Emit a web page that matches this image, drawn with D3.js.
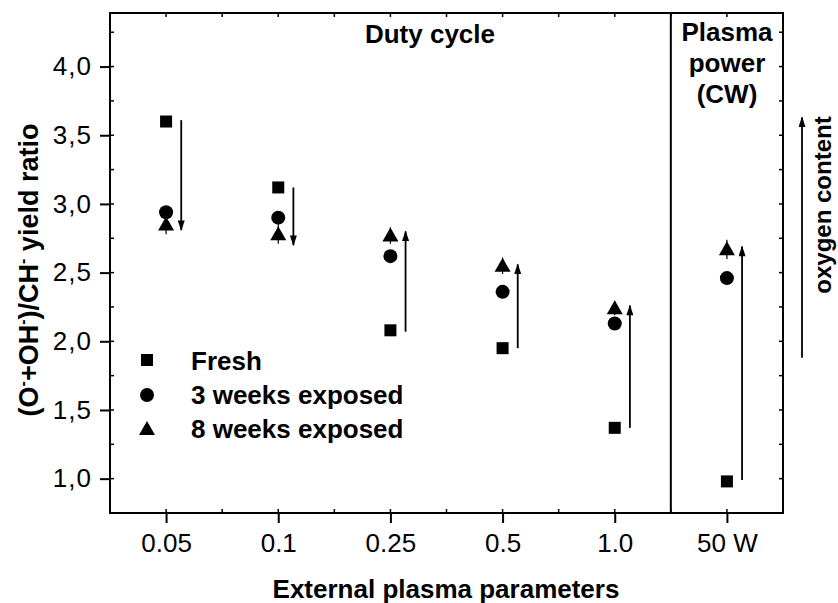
<!DOCTYPE html>
<html>
<head>
<meta charset="utf-8">
<script src="https://cdn.jsdelivr.net/npm/d3@7"></script>
<style>
  html, body { margin: 0; padding: 0; background: #fff; }
  svg { display: block; font-family: "Liberation Sans", Arial, sans-serif; }
</style>
</head>
<body>
<svg id="chart" width="838" height="603"></svg>
<script>
// Categories along the x axis (duty cycles, then CW plasma power)
const categories = ["0.05", "0.1", "0.25", "0.5", "1.0", "50 W"];

// (O- + OH-)/CH- yield ratio per sample age
const fresh  = [3.60, 3.12, 2.08, 1.95, 1.37, 0.98];
const weeks3 = [2.94, 2.90, 2.62, 2.36, 2.13, 2.46];
const weeks8 = [2.85, 2.78, 2.77, 2.55, 2.24, 2.67];
const err8   = [0.07, 0.07, 0.06, 0.06, 0.05, 0.07];

// Ageing arrows: start and end value for each category
const arrowFrom = [3.61, 3.12, 2.07, 1.95, 1.37, 0.99];
const arrowTo   = [2.81, 2.70, 2.80, 2.56, 2.26, 2.69];

// Y tick labels
const yTickValues = [1.0, 1.5, 2.0, 2.5, 3.0, 3.5, 4.0];
const yTickLabels = ["1,0", "1,5", "2,0", "2,5", "3,0", "3,5", "4,0"];

// "oxygen content" arrow span, in ratio units
const oxygenArrow = [1.88, 3.63];

const svg = d3.select("#chart");
const pLeft = 110, pRight = 783, pTop = 13, pBottom = 513;

const x = d3.scaleLinear().domain([-0.5, categories.length - 0.5]).range([pLeft, pRight]);
const y = d3.scaleLinear().domain([0.75, 4.39]).range([pBottom, pTop]);

const ink = "#000";
const font = "Liberation Sans, Arial, sans-serif";

// Arrowhead marker
svg.append("defs").append("marker")
  .attr("id", "head")
  .attr("markerUnits", "userSpaceOnUse")
  .attr("viewBox", "0 0 12 8")
  .attr("refX", 11).attr("refY", 4)
  .attr("markerWidth", 12).attr("markerHeight", 7)
  .attr("orient", "auto")
  .append("path").attr("d", "M0,0 L12,4 L0,8 Z").attr("fill", ink);

// Axes
const idx = d3.range(categories.length);
const xAxis = d3.axisBottom(x).tickValues(idx).tickFormat(i => categories[i])
  .tickSizeInner(10).tickSizeOuter(0).tickPadding(11);
const gx = svg.append("g").attr("transform", `translate(0,${pBottom})`).call(xAxis);
gx.selectAll("text").attr("font-size", 26).attr("font-family", font).attr("fill", ink);

const yAxis = d3.axisLeft(y).tickValues(yTickValues)
  .tickFormat((d, i) => yTickLabels[i]).tickSizeInner(10).tickSizeOuter(0).tickPadding(8);
const gy = svg.append("g").attr("transform", `translate(${pLeft},0)`).call(yAxis);
gy.selectAll("text").attr("font-size", 26).attr("font-family", font).attr("fill", ink)
  .attr("letter-spacing", 1);

[gx, gy].forEach(g => {
  g.select(".domain").remove();
  g.selectAll(".tick line").attr("stroke", ink).attr("stroke-width", 2);
});

// Minor ticks (inward)
const minorY = d3.range(1.0, 4.26, 0.25);
svg.append("g").selectAll("line").data(minorY).join("line")
  .attr("x1", pLeft).attr("x2", pLeft + 4)
  .attr("y1", d => y(d)).attr("y2", d => y(d))
  .attr("stroke", ink).attr("stroke-width", 1.5);
svg.append("g").selectAll("line").data(minorY).join("line")
  .attr("x1", pRight).attr("x2", pRight - 4)
  .attr("y1", d => y(d)).attr("y2", d => y(d))
  .attr("stroke", ink).attr("stroke-width", 1.5);
const minorX = d3.range(0, categories.length - 0.5, 0.5);
svg.append("g").selectAll("line").data(minorX).join("line")
  .attr("x1", d => x(d)).attr("x2", d => x(d))
  .attr("y1", pBottom).attr("y2", pBottom - 4)
  .attr("stroke", ink).attr("stroke-width", 1.5);
svg.append("g").selectAll("line").data(minorX).join("line")
  .attr("x1", d => x(d)).attr("x2", d => x(d))
  .attr("y1", pTop).attr("y2", pTop + 4)
  .attr("stroke", ink).attr("stroke-width", 1.5);

// Frame and divider between duty cycle and CW power
svg.append("rect").attr("x", pLeft).attr("y", pTop)
  .attr("width", pRight - pLeft).attr("height", pBottom - pTop)
  .attr("fill", "none").attr("stroke", ink).attr("stroke-width", 2);
svg.append("line")
  .attr("x1", x(categories.length - 1.5)).attr("x2", x(categories.length - 1.5))
  .attr("y1", pTop).attr("y2", pBottom)
  .attr("stroke", ink).attr("stroke-width", 2);

// Ageing arrows
svg.append("g").selectAll("line").data(idx).join("line")
  .attr("x1", i => x(i + 0.135)).attr("x2", i => x(i + 0.135))
  .attr("y1", i => y(arrowFrom[i])).attr("y2", i => y(arrowTo[i]))
  .attr("stroke", ink).attr("stroke-width", 1.8)
  .attr("marker-end", "url(#head)");

// Marker shapes
const tri = (cx, cy) => `M${cx},${cy - 8} L${cx + 8},${cy + 6} L${cx - 8},${cy + 6} Z`;

// 8 weeks error bars
svg.append("g").selectAll("line").data(idx).join("line")
  .attr("x1", i => x(i)).attr("x2", i => x(i))
  .attr("y1", i => y(weeks8[i] + err8[i])).attr("y2", i => y(weeks8[i] - err8[i]))
  .attr("stroke", ink).attr("stroke-width", 1.2);

svg.append("g").selectAll("rect").data(idx).join("rect")
  .attr("x", i => x(i) - 6).attr("y", i => y(fresh[i]) - 6)
  .attr("width", 12).attr("height", 12).attr("fill", ink);
svg.append("g").selectAll("circle").data(idx).join("circle")
  .attr("cx", i => x(i)).attr("cy", i => y(weeks3[i])).attr("r", 7).attr("fill", ink);
svg.append("g").selectAll("path").data(idx).join("path")
  .attr("d", i => tri(x(i), y(weeks8[i]))).attr("fill", ink);

// Legend
const legend = svg.append("g").attr("font-family", font).attr("font-weight", "bold")
  .attr("font-size", 26);
const lx = 147, ltx = 191;
legend.append("rect").attr("x", lx - 6).attr("y", 360 - 6).attr("width", 12).attr("height", 12).attr("fill", ink);
legend.append("circle").attr("cx", lx).attr("cy", 395).attr("r", 7).attr("fill", ink);
legend.append("path").attr("d", tri(lx, 429)).attr("fill", ink);
legend.append("text").attr("x", ltx).attr("y", 370).text("Fresh");
legend.append("text").attr("x", ltx).attr("y", 404).text("3 weeks exposed");
legend.append("text").attr("x", ltx).attr("y", 438).text("8 weeks exposed");

// Region titles
svg.append("text").attr("x", 430).attr("y", 43).attr("text-anchor", "middle")
  .attr("font-weight", "bold").attr("font-size", 26).text("Duty cycle");
const cw = svg.append("text").attr("text-anchor", "middle")
  .attr("font-weight", "bold").attr("font-size", 26);
["Plasma", "power", "(CW)"].forEach((t, i) =>
  cw.append("tspan").attr("x", 727).attr("y", 41 + i * 31).text(t));

// Axis titles
svg.append("text").attr("x", 446).attr("y", 598).attr("text-anchor", "middle")
  .attr("font-weight", "bold").attr("font-size", 26).text("External plasma parameters");

const yl = svg.append("text").attr("transform", "translate(38,270) rotate(-90)")
  .attr("text-anchor", "middle").attr("font-weight", "bold").attr("font-size", 27);
yl.append("tspan").text("(O");
yl.append("tspan").attr("dy", -10).attr("font-size", 16).text("-");
yl.append("tspan").attr("dy", 10).text("+OH");
yl.append("tspan").attr("dy", -10).attr("font-size", 16).text("-");
yl.append("tspan").attr("dy", 10).text(")/CH");
yl.append("tspan").attr("dy", -10).attr("font-size", 16).text("-");
yl.append("tspan").attr("dy", 10).text(" yield ratio");

// Oxygen content arrow outside the frame
svg.append("line").attr("x1", 802).attr("x2", 802)
  .attr("y1", y(oxygenArrow[0])).attr("y2", y(oxygenArrow[1]))
  .attr("stroke", ink).attr("stroke-width", 1.8).attr("marker-end", "url(#head)");
svg.append("text").attr("transform", "translate(831,205) rotate(-90)")
  .attr("text-anchor", "middle").attr("font-weight", "bold").attr("font-size", 24)
  .text("oxygen content");
</script>
</body>
</html>
